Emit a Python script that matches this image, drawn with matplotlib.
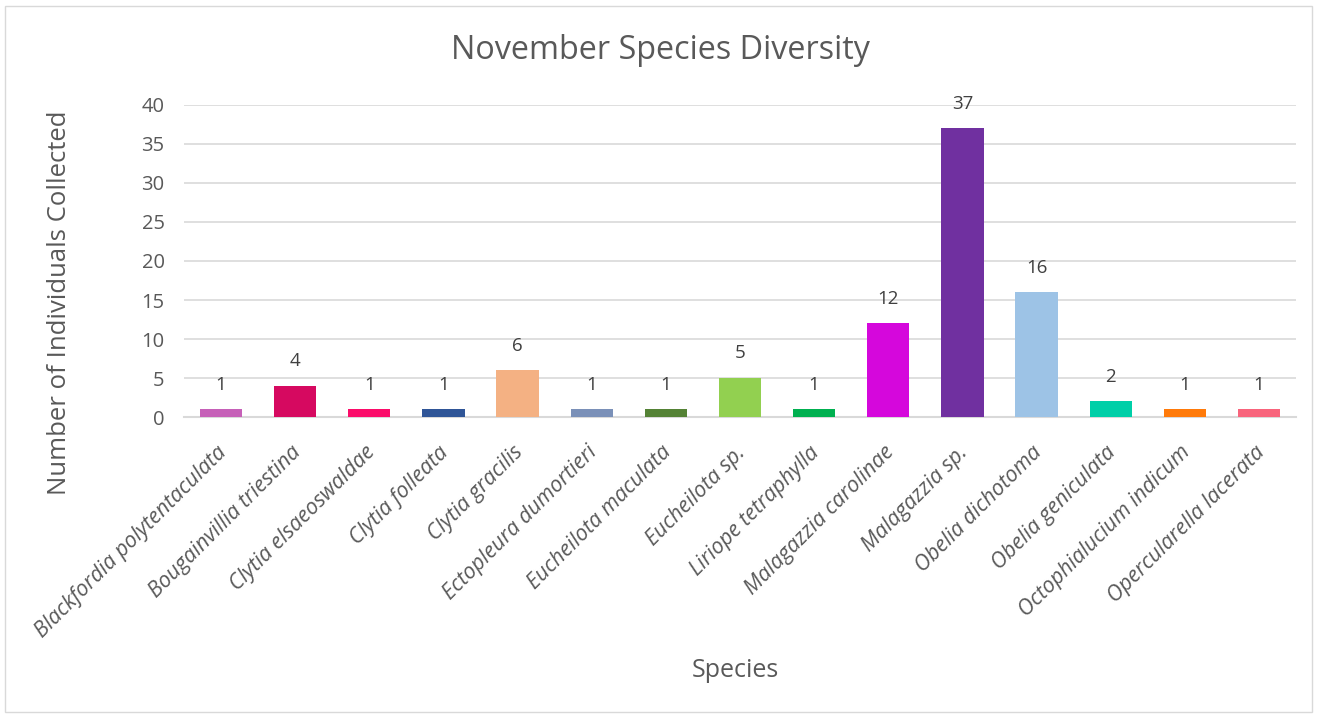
import matplotlib
matplotlib.use("Agg")
import matplotlib.pyplot as plt
import matplotlib.patches as mpatches
import matplotlib.transforms as mtransforms
import numpy as np

species = ["Blackfordia polytentaculata", "Bougainvillia triestina", "Clytia elsaeoswaldae",
           "Clytia folleata", "Clytia gracilis", "Ectopleura dumortieri", "Eucheilota maculata",
           "Eucheilota sp.", "Liriope tetraphylla", "Malagazzia carolinae", "Malagazzia sp.",
           "Obelia dichotoma", "Obelia geniculata", "Octophialucium indicum", "Opercularella lacerata"]
counts = [1, 4, 1, 1, 6, 1, 1, 5, 1, 12, 37, 16, 2, 1, 1]
colors = ["#C660B8", "#D60960", "#FB0C6A", "#2F5597", "#F4B183", "#7A90B8", "#548235",
          "#92D050", "#00B050", "#D507DC", "#7030A0", "#9DC3E6", "#00CFA8", "#FF7A0A", "#F8647C"]
yticks = [0, 5, 10, 15, 20, 25, 30, 35, 40]

plt.rcParams['font.family'] = ['Open Sans', 'DejaVu Sans']
txt = '#595959'

fig = plt.figure(figsize=(13.18, 7.19), dpi=100, facecolor='w')
ax = fig.add_axes([0.1396, 0.420, 0.8437, 0.434])

x = np.arange(len(species))
bars = ax.bar(x, counts, width=0.57, color=colors, zorder=3)
for xi, v in zip(x, counts):
    ax.text(xi, v + 2.0, str(v), ha='center', va='bottom', fontsize=13.5, color='#404040')

ax.set_xlim(-0.5, len(species) - 0.5)
ax.set_ylim(0, 40)
ax.set_yticks(yticks)
ax.set_yticklabels([str(t) for t in yticks], fontsize=14.5, color=txt)
ax.yaxis.grid(True, color='#D9D9D9', linewidth=1.2, zorder=0)
ax.tick_params(axis='both', length=0)
ax.tick_params(axis='y', pad=14)
for s in ['left', 'right', 'top']:
    ax.spines[s].set_visible(False)
ax.spines['bottom'].set_color('#D9D9D9')
ax.spines['bottom'].set_linewidth(1.5)

ax.set_xticks(x)
ax.set_xticklabels(species, rotation=45, ha='right', va='top', rotation_mode='anchor',
                   fontsize=15.5, style='italic', color=txt)
ax.tick_params(axis='x', pad=18)
# nudge the slanted names a little left
shift = mtransforms.ScaledTranslation(-5 / 100, 0, fig.dpi_scale_trans)
for lbl in ax.get_xticklabels():
    lbl.set_transform(lbl.get_transform() + shift)

fig.text(60 / 1318, 1 - 303 / 719, 'Number of Individuals Collected', rotation=90,
         ha='center', va='center', fontsize=18.5, color=txt)
fig.text(0.558, 0.067, 'Species', ha='center', va='center', fontsize=18, color=txt)
fig.text(0.501, 0.930, 'November Species Diversity', ha='center', va='center',
         fontsize=23.3, color=txt)

# chart frame
fig.patches.append(mpatches.Rectangle((5 / 1318, 1 - 712 / 719), 1307 / 1318, 706 / 719,
                                      transform=fig.transFigure, fill=False,
                                      edgecolor='#D9D9D9', linewidth=1))

fig.savefig('out.png', dpi=100)
